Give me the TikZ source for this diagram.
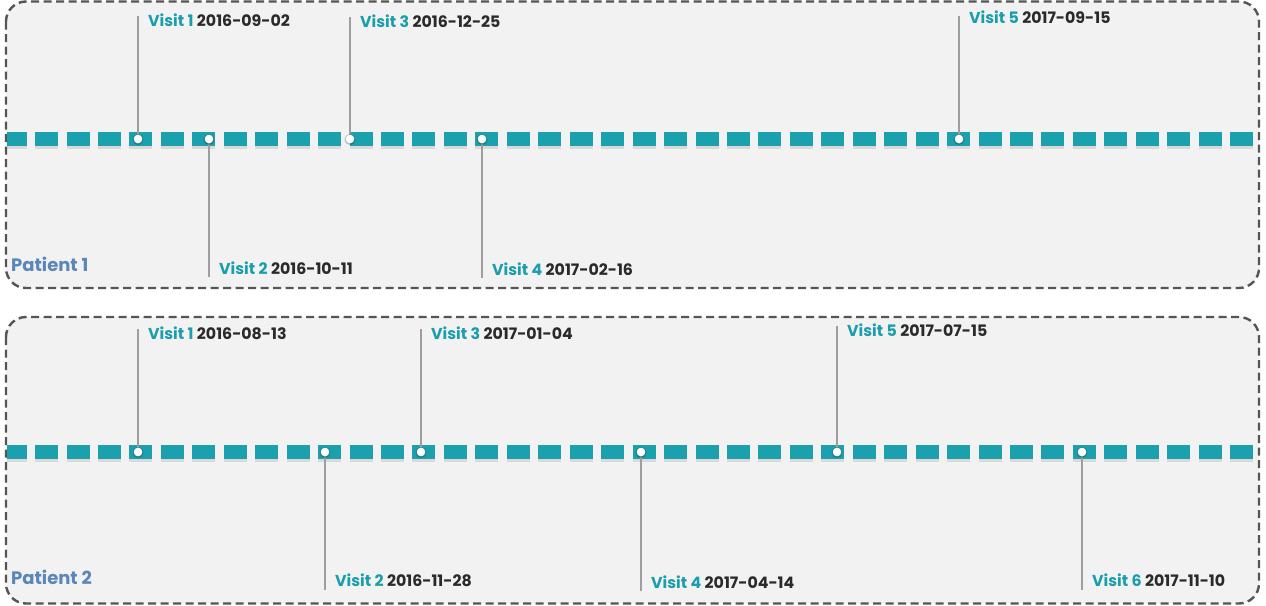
\documentclass[tikz,border=0pt]{standalone}
\usepackage{fontspec}
\setmainfont{Poppins}
\definecolor{teal1}{HTML}{1BA1AE}
\definecolor{visitc}{HTML}{1A9DAC}
\definecolor{datec}{HTML}{2A2A2A}
\definecolor{patc}{HTML}{5A86BA}
\definecolor{panelbg}{HTML}{F2F2F2}
\definecolor{borderc}{HTML}{555555}
\definecolor{stemc}{HTML}{9E9E9E}
\begin{document}
\begin{tikzpicture}[x=1pt,y=-1pt,
  panel/.style={draw=borderc,fill=panelbg,line width=2.4pt,dash pattern=on 8pt off 4.5pt,rounded corners=20pt},
  tline/.style={teal1,line width=14pt,dash pattern=on 23pt off 8.45pt,dash phase=2.9pt},
  tshadow/.style={black,opacity=0.10,line width=14pt,dash pattern=on 23pt off 8.45pt,dash phase=2.9pt},
  dot/.style={circle,fill=white,inner sep=0pt,minimum size=8.5pt},
  dotshadow/.style={circle,fill=black,opacity=0.22,inner sep=0pt,minimum size=11pt},
  stem/.style={stemc,line width=1.6pt},
  vlabel/.style={anchor=west,inner sep=0pt,font=\bfseries\fontsize{15.8}{17}\selectfont},
  plabel/.style={anchor=west,inner sep=0pt,text=patc,font=\bfseries\fontsize{18}{20}\selectfont}]
\useasboundingbox (0,0) rectangle (1266,605);
\fill[white] (0,0) rectangle (1266,605);
% panels
\draw[panel] (6,1.5) rectangle (1259,288);
\draw[panel] (6,317) rectangle (1259,603.5);
% timelines
\draw[tshadow] (6.5,141.5) -- (1254,141.5);
\draw[tline] (6.5,139) -- (1254,139);
\draw[tshadow] (6.5,454.5) -- (1254,454.5);
\draw[tline] (6.5,452) -- (1254,452);
% patient labels
\node[plabel] (p1) at (11,264) {Patient 1};
\node[plabel] (p2) at (11,577) {Patient 2};
\newcommand{\visit}[6]{%
  % #1 name, #2 x, #3 timeline y, #4 label y, #5 visit text, #6 date
  \node[dot] (#1) at (#2,#3) {};
  \node[vlabel] (#1l) at (#2+10,#4) {\textcolor{visitc}{#5} \textcolor{datec}{#6}};
}
\visit{a1}{138}{139}{20}{Visit 1}{2016-09-02}
\visit{a2}{209}{139}{268}{Visit 2}{2016-10-11}
\visit{a3}{350}{139}{21}{Visit 3}{2016-12-25}
\visit{a4}{482}{139}{269}{Visit 4}{2017-02-16}
\visit{a5}{959}{139}{17}{Visit 5}{2017-09-15}
\visit{b1}{138}{452}{333}{Visit 1}{2016-08-13}
\visit{b2}{325}{452}{580}{Visit 2}{2016-11-28}
\visit{b3}{421}{452}{333}{Visit 3}{2017-01-04}
\visit{b4}{641}{452}{582}{Visit 4}{2017-04-14}
\visit{b5}{837}{452}{330}{Visit 5}{2017-07-15}
\visit{b6}{1082}{452}{580}{Visit 6}{2017-11-10}
% stems
\coordinate (a1t) at (138,16); \coordinate (a2t) at (209,277);
\coordinate (a3t) at (350,17); \coordinate (a4t) at (482,278);
\coordinate (a5t) at (959,16);
\coordinate (b1t) at (138,329); \coordinate (b2t) at (325,590);
\coordinate (b3t) at (421,329); \coordinate (b4t) at (641,591);
\coordinate (b5t) at (837,326); \coordinate (b6t) at (1082,590);
\foreach \n in {a1,a2,a3,a4,a5,b1,b2,b3,b4,b5,b6}{
  \draw[stem] (\n.center) -- (\n t);
  \node[dotshadow] at ([yshift=-0.5pt]\n) {};
  \node[dot] at (\n) {};
}
\end{tikzpicture}
\end{document}
